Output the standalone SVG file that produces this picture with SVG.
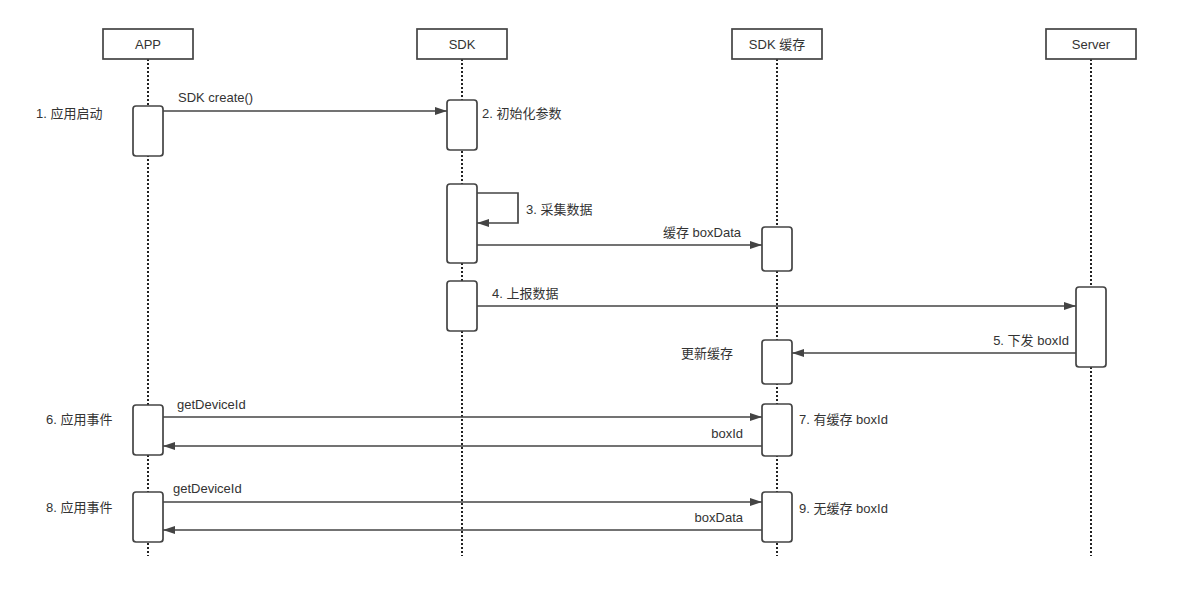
<svg xmlns="http://www.w3.org/2000/svg" width="1193" height="591" viewBox="0 0 1193 591">
<defs>
<style>
text{font-family:"Liberation Sans","Noto Sans CJK SC",sans-serif;font-size:13px;fill:#333;dominant-baseline:central}
.hd{fill:#fff;stroke:#444;stroke-width:1.7}
.life{stroke:#222;stroke-width:2;stroke-dasharray:2 2;fill:none}
.act{fill:#fff;stroke:#444;stroke-width:1.7}
.msg{stroke:#444;stroke-width:1.7;fill:none;marker-end:url(#ah)}
</style>
<marker id="ah" markerUnits="userSpaceOnUse" markerWidth="12" markerHeight="8" refX="12" refY="4" orient="auto">
<path d="M0,0 L12,4 L0,8 z" fill="#444"/>
</marker>
</defs>
<rect width="1193" height="591" fill="#fff"/>
<g id="lifelines">
<line class="life" x1="148" y1="59" x2="148" y2="556"/>
<line class="life" x1="462" y1="59" x2="462" y2="556"/>
<line class="life" x1="777" y1="59" x2="777" y2="556"/>
<line class="life" x1="1091" y1="59" x2="1091" y2="556"/>
</g>
<g id="app"><rect class="hd" x="103" y="29" width="90" height="30"/><text x="148" y="44" text-anchor="middle">APP</text></g>
<g id="sdk"><rect class="hd" x="417" y="29" width="90" height="30"/><text x="462" y="44" text-anchor="middle">SDK</text></g>
<g id="cache"><rect class="hd" x="732" y="29" width="90" height="30"/><text x="777" y="44" text-anchor="middle">SDK 缓存</text></g>
<g id="server"><rect class="hd" x="1046" y="29" width="90" height="30"/><text x="1091" y="44" text-anchor="middle">Server</text></g>
<g id="activations">
<rect class="act" x="133" y="106" width="30" height="50" rx="3"/>
<rect class="act" x="447" y="100" width="30" height="50" rx="3"/>
<rect class="act" x="447" y="184" width="30" height="79" rx="3"/>
<rect class="act" x="762" y="227" width="30" height="44" rx="3"/>
<rect class="act" x="447" y="281" width="30" height="50" rx="3"/>
<rect class="act" x="1076" y="287" width="30" height="80" rx="3"/>
<rect class="act" x="762" y="340" width="30" height="44" rx="3"/>
<rect class="act" x="133" y="405" width="30" height="50" rx="3"/>
<rect class="act" x="762" y="404" width="30" height="52" rx="3"/>
<rect class="act" x="133" y="492" width="30" height="50" rx="3"/>
<rect class="act" x="762" y="492" width="30" height="50" rx="3"/>
</g>
<g id="connectors">
<line class="msg" x1="163" y1="111" x2="447" y2="111"/>
<path class="msg" d="M477,193 H518 V223 H477"/>
<line class="msg" x1="477" y1="245" x2="762" y2="245"/>
<line class="msg" x1="477" y1="306" x2="1076" y2="306"/>
<line class="msg" x1="1076" y1="353" x2="792" y2="353"/>
<line class="msg" x1="163" y1="417" x2="762" y2="417"/>
<line class="msg" x1="762" y1="446" x2="163" y2="446"/>
<line class="msg" x1="163" y1="502" x2="762" y2="502"/>
<line class="msg" x1="762" y1="530" x2="163" y2="530"/>
</g>
<g id="labels">
<text x="178" y="97">SDK create()</text>
<text x="36" y="113">1. 应用启动</text>
<text x="482" y="113">2. 初始化参数</text>
<text x="526" y="209">3. 采集数据</text>
<text x="741" y="232" text-anchor="end">缓存 boxData</text>
<text x="492" y="293">4. 上报数据</text>
<text x="1069" y="340" text-anchor="end">5. 下发 boxId</text>
<text x="681" y="353">更新缓存</text>
<text x="177" y="404">getDeviceId</text>
<text x="46" y="419">6. 应用事件</text>
<text x="743" y="433" text-anchor="end">boxId</text>
<text x="799" y="419">7. 有缓存 boxId</text>
<text x="173" y="488">getDeviceId</text>
<text x="46" y="507">8. 应用事件</text>
<text x="743" y="517" text-anchor="end">boxData</text>
<text x="799" y="508">9. 无缓存 boxId</text>
</g>
</svg>
